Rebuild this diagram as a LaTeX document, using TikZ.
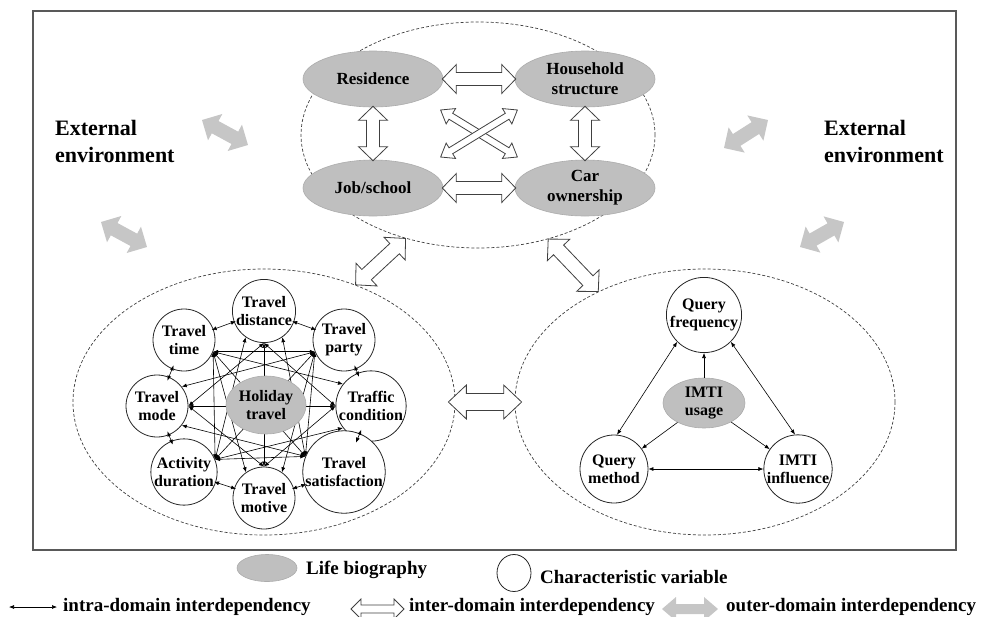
\documentclass[tikz,border=0pt]{standalone}
\usepackage{fontspec}
\setmainfont{Liberation Serif}
\usetikzlibrary{shapes.geometric,arrows.meta,calc}

\definecolor{biogray}{HTML}{BFBFBF}
\definecolor{outergray}{HTML}{C6C6C6}
\definecolor{framegray}{HTML}{595959}

\tikzset{
  domainring/.style={ellipse, draw=black!75, dash pattern=on 3pt off 2pt, line width=0.7pt, inner sep=0pt},
  biography/.style={ellipse, fill=biogray, draw=gray!65, line width=0.6pt, inner sep=0pt,
    minimum width=140pt, minimum height=56pt, align=center, font=\fontsize{17}{20}\selectfont\bfseries},
  varcircle/.style={circle, draw=black!85, fill=white, line width=0.8pt, minimum size=62pt,
    inner sep=0pt, align=center, font=\fontsize{16}{18}\selectfont\bfseries},
  intraarrow/.style={{Latex[length=5pt,width=4pt]}-{Latex[length=5pt,width=4pt]}, line width=0.6pt},
  ringarrow/.style={intraarrow, shorten >=-2pt, shorten <=-2pt},
  tightarrow/.style={intraarrow, shorten >=-4pt, shorten <=-4pt},
  usagearrow/.style={-{Latex[length=5pt,width=4pt]}, line width=0.6pt},
  interarrow/.style={draw=black!75, fill=white, line width=0.8pt},
  outerarrow/.style={fill=outergray, draw=none},
  legendtext/.style={anchor=west, inner sep=0pt, font=\fontsize{19}{23}\selectfont\bfseries},
  envtext/.style={anchor=west, inner sep=0pt, align=left, font=\fontsize{22}{27}\selectfont\bfseries},
}

% hollow double arrow from #2 to #3: style, shaft, head width, head length, shorten
\makeatletter
\newcommand\hollowarrow[7]{%
  \path (#2) coordinate (harA) (#3) coordinate (harB);
  \pgfmathanglebetweenpoints{\pgfpointanchor{harA}{center}}{\pgfpointanchor{harB}{center}}%
  \let\harang\pgfmathresult
  \pgfpointdiff{\pgfpointanchor{harA}{center}}{\pgfpointanchor{harB}{center}}%
  \pgfmathveclen{\pgf@x}{\pgf@y}%
  \pgfmathsetmacro\harlen{\pgfmathresult-2*(#7)}%
  \draw[#1, shift={(harA)}, rotate=\harang, xshift=#7pt]
    (0,0) -- (#6,#5/2) -- (#6,#4/2) -- (\harlen-#6,#4/2) -- (\harlen-#6,#5/2)
    -- (\harlen,0) -- (\harlen-#6,-#5/2) -- (\harlen-#6,-#4/2) -- (#6,-#4/2)
    -- (#6,-#5/2) -- cycle;
}
\makeatother

\begin{document}
\begin{tikzpicture}[x=1pt, y=-1pt]
\useasboundingbox (0,0) rectangle (992,616);

% frame of the external environment
\draw[framegray, line width=1.2pt] (33,11) rectangle (956,550);

% the three domains
\node[domainring, minimum width=354pt, minimum height=226pt] (lifedom) at (478,135) {};
\node[domainring, minimum width=382pt, minimum height=266pt] (holidaydom) at (264,402) {};
\node[domainring, minimum width=380pt, minimum height=266pt] (imtidom) at (705,402) {};

\node[envtext] (envleft) at (55,141) {External\\environment};
\node[envtext] (envright) at (824,141) {External\\environment};

% outer-domain arrows
\coordinate (o1a) at (202,120); \coordinate (o1b) at (248,145);
\coordinate (o2a) at (101,222); \coordinate (o2b) at (147,247);
\coordinate (o3a) at (724,148); \coordinate (o3b) at (768,120);
\coordinate (o4a) at (800,247); \coordinate (o4b) at (844,222);
\hollowarrow{outerarrow}{o1a}{o1b}{14}{30}{15}{0}
\hollowarrow{outerarrow}{o2a}{o2b}{14}{30}{15}{0}
\hollowarrow{outerarrow}{o3a}{o3b}{14}{30}{15}{0}
\hollowarrow{outerarrow}{o4a}{o4b}{14}{30}{15}{0}

% life biography
\node[biography] (res) at (373,79) {Residence};
\node[biography] (house) at (585,79) {Household\\structure};
\node[biography] (job) at (373,188) {Job/school};
\node[biography] (car) at (585,188) {Car\\ownership};

\hollowarrow{interarrow}{res.east}{house.west}{13}{29}{14}{-1}
\hollowarrow{interarrow}{job.east}{car.west}{13}{29}{14}{-1}
\hollowarrow{interarrow}{res.south}{job.north}{13}{29}{14}{-1}
\hollowarrow{interarrow}{house.south}{car.north}{13}{29}{14}{-1}
\hollowarrow{interarrow}{res.south east}{car.north west}{7}{18}{12}{21}
\hollowarrow{interarrow}{house.south west}{job.north east}{7}{18}{12}{21}

% inter-domain arrows
\hollowarrow{interarrow}{lifedom.235}{holidaydom.52}{14}{31}{15}{0}
\hollowarrow{interarrow}{lifedom.304}{imtidom.134}{14}{31}{15}{0}
\hollowarrow{interarrow}{holidaydom.east}{imtidom.west}{17}{34}{18}{-7}

% holiday travel
\node[varcircle] (tdist) at (264,311) {Travel\\distance};
\node[varcircle] (ttime) at (184,340) {Travel\\time};
\node[varcircle] (tparty) at (344,340) {Travel\\party};
\node[varcircle] (tmode) at (157,406) {Travel\\mode};
\node[varcircle] (traffic) at (371,406) {Traffic\\condition};
\node[varcircle] (activity) at (184,472) {Activity\\duration};
\node[varcircle] (tsatis) at (344,472) {Travel\\satisfaction};
\node[varcircle] (tmotive) at (264,498) {Travel\\motive};

\draw[ringarrow] (ttime) -- (tdist);
\draw[ringarrow] (tdist) -- (tparty);
\draw[tightarrow] (tparty) -- (traffic);
\draw[tightarrow] (traffic) -- (tsatis);
\draw[ringarrow] (tsatis) -- (tmotive);
\draw[ringarrow] (tmotive) -- (activity);
\draw[tightarrow] (activity) -- (tmode);
\draw[tightarrow] (tmode) -- (ttime);

\draw[intraarrow] (ttime.-22) -- (tparty.202);
\draw[intraarrow] (ttime.-22) -- (activity.22);
\draw[intraarrow] (activity.22) -- (tsatis.158);
\draw[intraarrow] (tparty.202) -- (tsatis.158);
\draw[intraarrow] (tdist.south) -- (tmode.east);
\draw[intraarrow] (tdist.south) -- (traffic.west);
\draw[intraarrow] (tmotive.north) -- (tmode.east);
\draw[intraarrow] (tmotive.north) -- (traffic.west);
\draw[intraarrow] (ttime.-22) -- (tsatis.158);
\draw[intraarrow] (tparty.202) -- (activity.22);
\draw[intraarrow] (tdist.south) -- (tmotive.north);
\draw[intraarrow] (tmode.east) -- (traffic.west);
\draw[intraarrow] (ttime.-22) -- (traffic.142);
\draw[intraarrow] (ttime.-22) -- (tmotive.125);
\draw[intraarrow] (tparty.202) -- (tmode.38);
\draw[intraarrow] (tparty.202) -- (tmotive.55);
\draw[intraarrow] (activity.22) -- (tdist.235);
\draw[intraarrow] (activity.22) -- (traffic.218);
\draw[intraarrow] (tsatis.158) -- (tdist.305);
\draw[intraarrow] (tsatis.158) -- (tmode.-38);

\node[biography, minimum width=80pt, minimum height=58pt, font=\fontsize{16}{18}\selectfont\bfseries] (holiday) at (266,405) {Holiday\\travel};

% IMTI usage
\node[varcircle, minimum size=68pt] (qfreq) at (704,315) {Query\\frequency};
\node[varcircle, minimum size=68pt] (qmethod) at (614,469) {Query\\method};
\node[varcircle, minimum size=68pt] (influence) at (798,469) {IMTI\\influence};
\node[biography, minimum width=82pt, minimum height=50pt, font=\fontsize{16}{18}\selectfont\bfseries] (usage) at (704,403) {IMTI\\usage};

\draw[intraarrow] (qfreq.225) -- (qmethod.85);
\draw[intraarrow] (qfreq.315) -- (influence.95);
\draw[intraarrow] (qmethod) -- (influence);
\draw[usagearrow] (usage) -- (qfreq);
\draw[usagearrow] (usage) -- (qmethod);
\draw[usagearrow] (usage) -- (influence);

% legend
\node[biography, minimum width=60pt, minimum height=27pt] (legbio) at (267,568) {};
\node[legendtext] (legbiotext) at (306,570) {Life biography};
\node[ellipse, draw=black!85, line width=0.8pt, minimum width=34pt, minimum height=37pt] (legvar) at (514,573) {};
\node[legendtext] (legvartext) at (540,577) {Characteristic variable};

\coordinate (li1) at (9,607); \coordinate (li2) at (57,607);
\draw[intraarrow] (li1) -- (li2);
\node[legendtext] (legintra) at (63,607) {intra-domain interdependency};
\coordinate (le1) at (351,609); \coordinate (le2) at (404,609);
\hollowarrow{interarrow}{le1}{le2}{8}{20}{10}{0}
\node[legendtext] (leginter) at (409,607) {inter-domain interdependency};
\coordinate (lo1) at (662,609); \coordinate (lo2) at (718,609);
\hollowarrow{outerarrow}{lo1}{lo2}{10}{24}{14}{0}
\node[legendtext] (legouter) at (726,607) {outer-domain interdependency};
\end{tikzpicture}
\end{document}
